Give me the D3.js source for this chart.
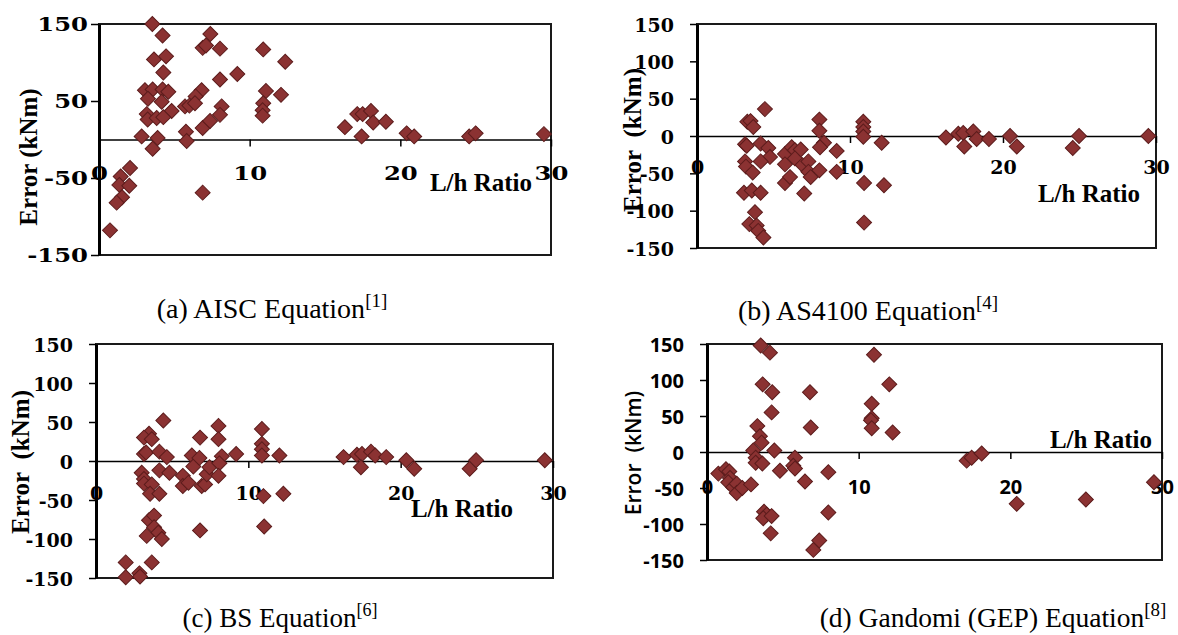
<!DOCTYPE html>
<html>
<head>
<meta charset="utf-8">
<title>error vs L/h ratio</title>
<style>
  body { margin: 0; background: #fff; }
  svg { display: block; }
</style>
</head>
<body>
<svg width="1178" height="635"></svg>
<script src="https://d3js.org/d3.v7.min.js"></script>
<script>

// [L/h ratio, error kNm]
var aiscPoints = [
    [3.54, 150], [4.22, 135], [7.39, 137], [6.88, 119], [7.1, 122], [8.03, 118], [10.9, 117], [12.36, 101],
    [3.65, 104], [4.45, 108], [4.27, 87], [9.18, 85], [8.03, 78], [3.05, 64], [3.56, 65], [3.25, 53],
    [4.22, 65], [4.6, 62], [4.16, 49], [4.82, 37], [6.81, 64], [6.41, 56], [5.71, 43], [6.0, 44],
    [6.37, 47], [8.14, 43], [8.03, 32], [11.08, 63], [10.9, 47], [10.86, 38], [10.86, 31], [12.08, 58],
    [3.17, 33], [3.23, 26], [3.83, 28], [4.27, 29], [6.88, 15], [7.37, 24], [2.83, 4], [3.89, 2],
    [5.77, 10], [5.82, -2], [3.56, -12], [2.06, -37], [1.44, -48], [1.35, -59], [2.01, -60], [1.53, -75],
    [1.17, -82], [6.88, -69], [0.73, -118], [16.32, 16], [17.14, 33], [17.5, 33], [18.05, 37], [18.2, 22],
    [19.04, 23], [17.43, 4], [20.42, 8], [20.92, 4], [24.57, 4], [25.0, 8], [29.53, 7]
];

var as4100Points = [
    [4.44, 36], [3.29, 19], [3.5, 20], [3.68, 12], [3.14, -11], [3.25, -13], [3.14, -34], [3.2, -41],
    [3.64, -49], [4.16, -10], [4.66, -16], [4.77, -28], [4.16, -34], [3.07, -76], [3.58, -73], [4.16, -76],
    [3.79, -102], [3.42, -118], [3.9, -120], [4.0, -127], [4.34, -136], [5.75, -24], [5.75, -38], [6.19, -15],
    [6.4, -19], [6.78, -18], [6.4, -30], [6.9, -39], [7.28, -34], [7.28, -48], [7.43, -55], [5.75, -63],
    [6.08, -55], [7.01, -77], [8.0, 22], [8.0, 7], [8.3, -9], [8.04, -15], [8.0, -46], [9.13, -20],
    [9.13, -48], [10.87, 19], [10.87, 12], [10.87, 6], [10.87, -1], [12.07, -9], [10.92, -63], [12.22, -66],
    [10.92, -116], [16.27, -2], [17.08, 3], [17.4, 4], [17.47, -14], [18.06, 6], [18.28, -4], [19.08, -4],
    [20.46, 0], [20.9, -14], [24.56, -16], [24.97, 0], [29.5, 0]
];

var bsPoints = [
    [4.42, 52], [3.48, 35], [3.15, 30], [3.66, 28], [3.15, 9], [3.29, 11], [4.16, 12], [4.65, 5],
    [3.0, -15], [3.15, -23], [3.15, -29], [3.66, -30], [4.16, -12], [4.82, -15], [3.55, -42], [4.16, -42],
    [3.48, -76], [3.81, -70], [3.81, -85], [4.09, -92], [3.33, -96], [4.32, -100], [3.66, -130], [1.95, -130],
    [1.95, -149], [2.85, -144], [2.89, -148], [5.7, -19], [5.7, -32], [6.07, -28], [6.29, 7], [6.39, -7],
    [6.83, 30], [6.79, 4], [6.94, -32], [7.16, -30], [6.83, -89], [7.27, -17], [7.45, -8], [8.04, 45],
    [8.04, 28], [8.26, 6], [8.1, -3], [8.04, -19], [9.2, 9], [10.89, 41], [10.89, 22], [10.89, 15],
    [10.89, 7], [12.04, 7], [10.99, -45], [12.3, -42], [11.04, -84], [16.25, 5], [17.13, 8], [17.46, 9],
    [17.39, -8], [18.05, 12], [18.33, 7], [19.05, 5], [20.37, 1], [20.89, -10], [24.53, -10], [24.95, 1],
    [29.46, 1]
];

var gandomiPoints = [
    [3.54, 148], [4.15, 138], [3.67, 94], [4.3, 83], [4.26, 55], [6.79, 83], [3.32, 36], [6.84, 34],
    [3.49, 22], [3.6, 13], [4.44, 2], [3.05, 2], [3.21, -8], [3.21, -15], [3.65, -16], [4.81, -26],
    [5.8, -8], [5.69, -19], [5.8, -23], [6.46, -41], [8.0, -28], [0.75, -30], [1.25, -24], [1.47, -27],
    [1.52, -36], [1.4, -42], [1.73, -49], [1.96, -44], [1.96, -57], [2.33, -50], [2.9, -45], [3.76, -83],
    [3.94, -87], [3.71, -92], [4.26, -89], [4.2, -113], [8.0, -84], [7.4, -123], [7.01, -136], [11.01, 135],
    [12.02, 94], [10.86, 67], [10.86, 47], [10.81, 44], [10.86, 33], [12.24, 27], [17.12, -12], [17.45, -8],
    [18.11, -2], [20.42, -72], [24.98, -66], [29.47, -42]
];

var xTicks = [0, 10, 20, 30];
var yTicksSparse = [-150, -50, 50, 150];
var yTicksFull = [-150, -100, -50, 0, 50, 100, 150];

var captionLabels = ["(a) AISC Equation", "(b) AS4100 Equation", "(c) BS Equation", "(d) Gandomi (GEP) Equation"];
var captionRefs = ["[1]", "[4]", "[6]", "[8]"];
var yTitles = ["Error (kNm)", "Error\u00a0\u00a0(kNm)", "Error\u00a0\u00a0(kNm)", "Error\u00a0\u00a0(kNm)"];
var xTitle = "L/h Ratio";

var serif = "'Liberation Serif', 'Times New Roman', serif";
var digitSerif = "'DejaVu Serif', serif";
var sans = "'Open Sans', 'Liberation Sans', sans-serif";

// plain hyphen for negatives, like the original figure
var fmt = function (d) { return String(d); };

var panels = [
    { pts: aiscPoints, yTicks: yTicksSparse, left: 99, right: 551, top: 24, bottom: 255,
      tickFont: digitSerif, tickSize: 19, tickSx: 1.28, tSize: 8, tPad: 3, xLabDy: 34,
      titleFont: serif, titleWeight: "bold", titleSize: 25, titleX: 28, titleY: 157,
      lhX: 481, lhY: 191, capX: 272, capY: 318, capSize: 28 },
    { pts: as4100Points, yTicks: yTicksFull, left: 697, right: 1156, top: 24, bottom: 248,
      tickFont: digitSerif, tickSize: 19, tickSx: 1.0, tSize: 7, tPad: 16, xLabDy: 31,
      titleFont: serif, titleWeight: "bold", titleSize: 25, titleX: 632, titleY: 140,
      lhX: 1089, lhY: 202, capX: 868, capY: 320, capSize: 28 },
    { pts: bsPoints, yTicks: yTicksFull, left: 96, right: 553, top: 344, bottom: 578,
      tickFont: digitSerif, tickSize: 19, tickSx: 1.0, tSize: 7, tPad: 16, xLabDy: 32,
      titleFont: serif, titleWeight: "bold", titleSize: 25, titleX: 20, titleY: 462,
      lhX: 462, lhY: 517, capX: 280, capY: 627, capSize: 27 },
    { pts: gandomiPoints, yTicks: yTicksFull, left: 707, right: 1162, top: 344, bottom: 560,
      tickFont: sans, tickSize: 20, tickSx: 1.0, tSize: 7, tPad: 16, xLabDy: 34,
      titleFont: sans, titleWeight: 600, titleSize: 21, titleX: 633, titleY: 453,
      lhX: 1101, lhY: 448, capX: 993, capY: 627, capSize: 27.5 }
];

var svg = d3.select("svg");
var marker = d3.symbol().type(d3.symbolSquare).size(112);

panels.forEach(function (p, i) {
    var g = svg.append("g");
    var x = d3.scaleLinear().domain([0, 30]).range([p.left, p.right]);
    var y = d3.scaleLinear().domain([-150, 150]).range([p.bottom, p.top]);

    // plot frame
    g.append("rect")
        .attr("x", p.left).attr("y", p.top)
        .attr("width", p.right - p.left).attr("height", p.bottom - p.top)
        .attr("fill", "none").attr("stroke", "#1a1a1a").attr("stroke-width", 2);

    // x axis sits on the zero line
    var gx = g.append("g")
        .attr("transform", "translate(0," + y(0) + ")")
        .call(d3.axisBottom(x).tickValues(xTicks).tickSize(7).tickSizeOuter(0).tickFormat(fmt));
    gx.attr("font-family", p.tickFont).attr("font-size", p.tickSize).attr("font-weight", "bold");
    gx.select(".domain").attr("stroke", "#000").attr("stroke-width", 1.5);
    gx.selectAll(".tick line").attr("stroke-width", 1.5);
    gx.selectAll(".tick text")
        .attr("y", null).attr("dy", null)
        .attr("dominant-baseline", "central")
        .attr("fill", "#000")
        .attr("transform", "translate(0," + p.xLabDy + ") scale(" + p.tickSx + ",1)");

    var gy = g.append("g")
        .attr("transform", "translate(" + p.left + ",0)")
        .call(d3.axisLeft(y).tickValues(p.yTicks).tickSize(p.tSize).tickPadding(p.tPad).tickSizeOuter(0).tickFormat(fmt));
    gy.attr("font-family", p.tickFont).attr("font-size", p.tickSize).attr("font-weight", "bold");
    gy.select(".domain").attr("stroke", "#000").attr("stroke-width", 3);
    gy.selectAll(".tick line").attr("stroke-width", 1.5);
    gy.selectAll(".tick text")
        .attr("x", null).attr("dy", null)
        .attr("dominant-baseline", "central")
        .attr("fill", "#000")
        .attr("transform", "translate(" + (-(p.tSize + p.tPad)) + ",0) scale(" + p.tickSx + ",1)");

    // markers
    g.selectAll("path.pt")
        .data(p.pts)
        .enter().append("path")
        .attr("class", "pt")
        .attr("d", marker)
        .attr("transform", function (d) { return "translate(" + x(d[0]) + "," + y(d[1]) + ") rotate(45)"; })
        .attr("fill", "#8b3232")
        .attr("stroke", "#5c1c1c")
        .attr("stroke-width", 1);

    // axis titles
    g.append("text")
        .attr("transform", "translate(" + p.titleX + "," + p.titleY + ") rotate(-90)")
        .attr("text-anchor", "middle")
        .attr("dominant-baseline", "central")
        .attr("font-family", p.titleFont)
        .attr("font-weight", p.titleWeight)
        .attr("font-size", p.titleSize)
        .text(yTitles[i]);

    g.append("text")
        .attr("x", p.lhX).attr("y", p.lhY)
        .attr("text-anchor", "middle")
        .attr("font-family", serif)
        .attr("font-weight", "bold")
        .attr("font-size", 25)
        .text(xTitle);

    // caption under each panel
    var cap = g.append("text")
        .attr("x", p.capX).attr("y", p.capY)
        .attr("text-anchor", "middle")
        .attr("font-family", serif)
        .attr("font-size", p.capSize);
    cap.append("tspan").text(captionLabels[i]);
    cap.append("tspan")
        .attr("font-size", Math.round(p.capSize * 0.68))
        .attr("dy", -p.capSize * 0.4)
        .text(captionRefs[i]);
});

</script>
</body>
</html>
